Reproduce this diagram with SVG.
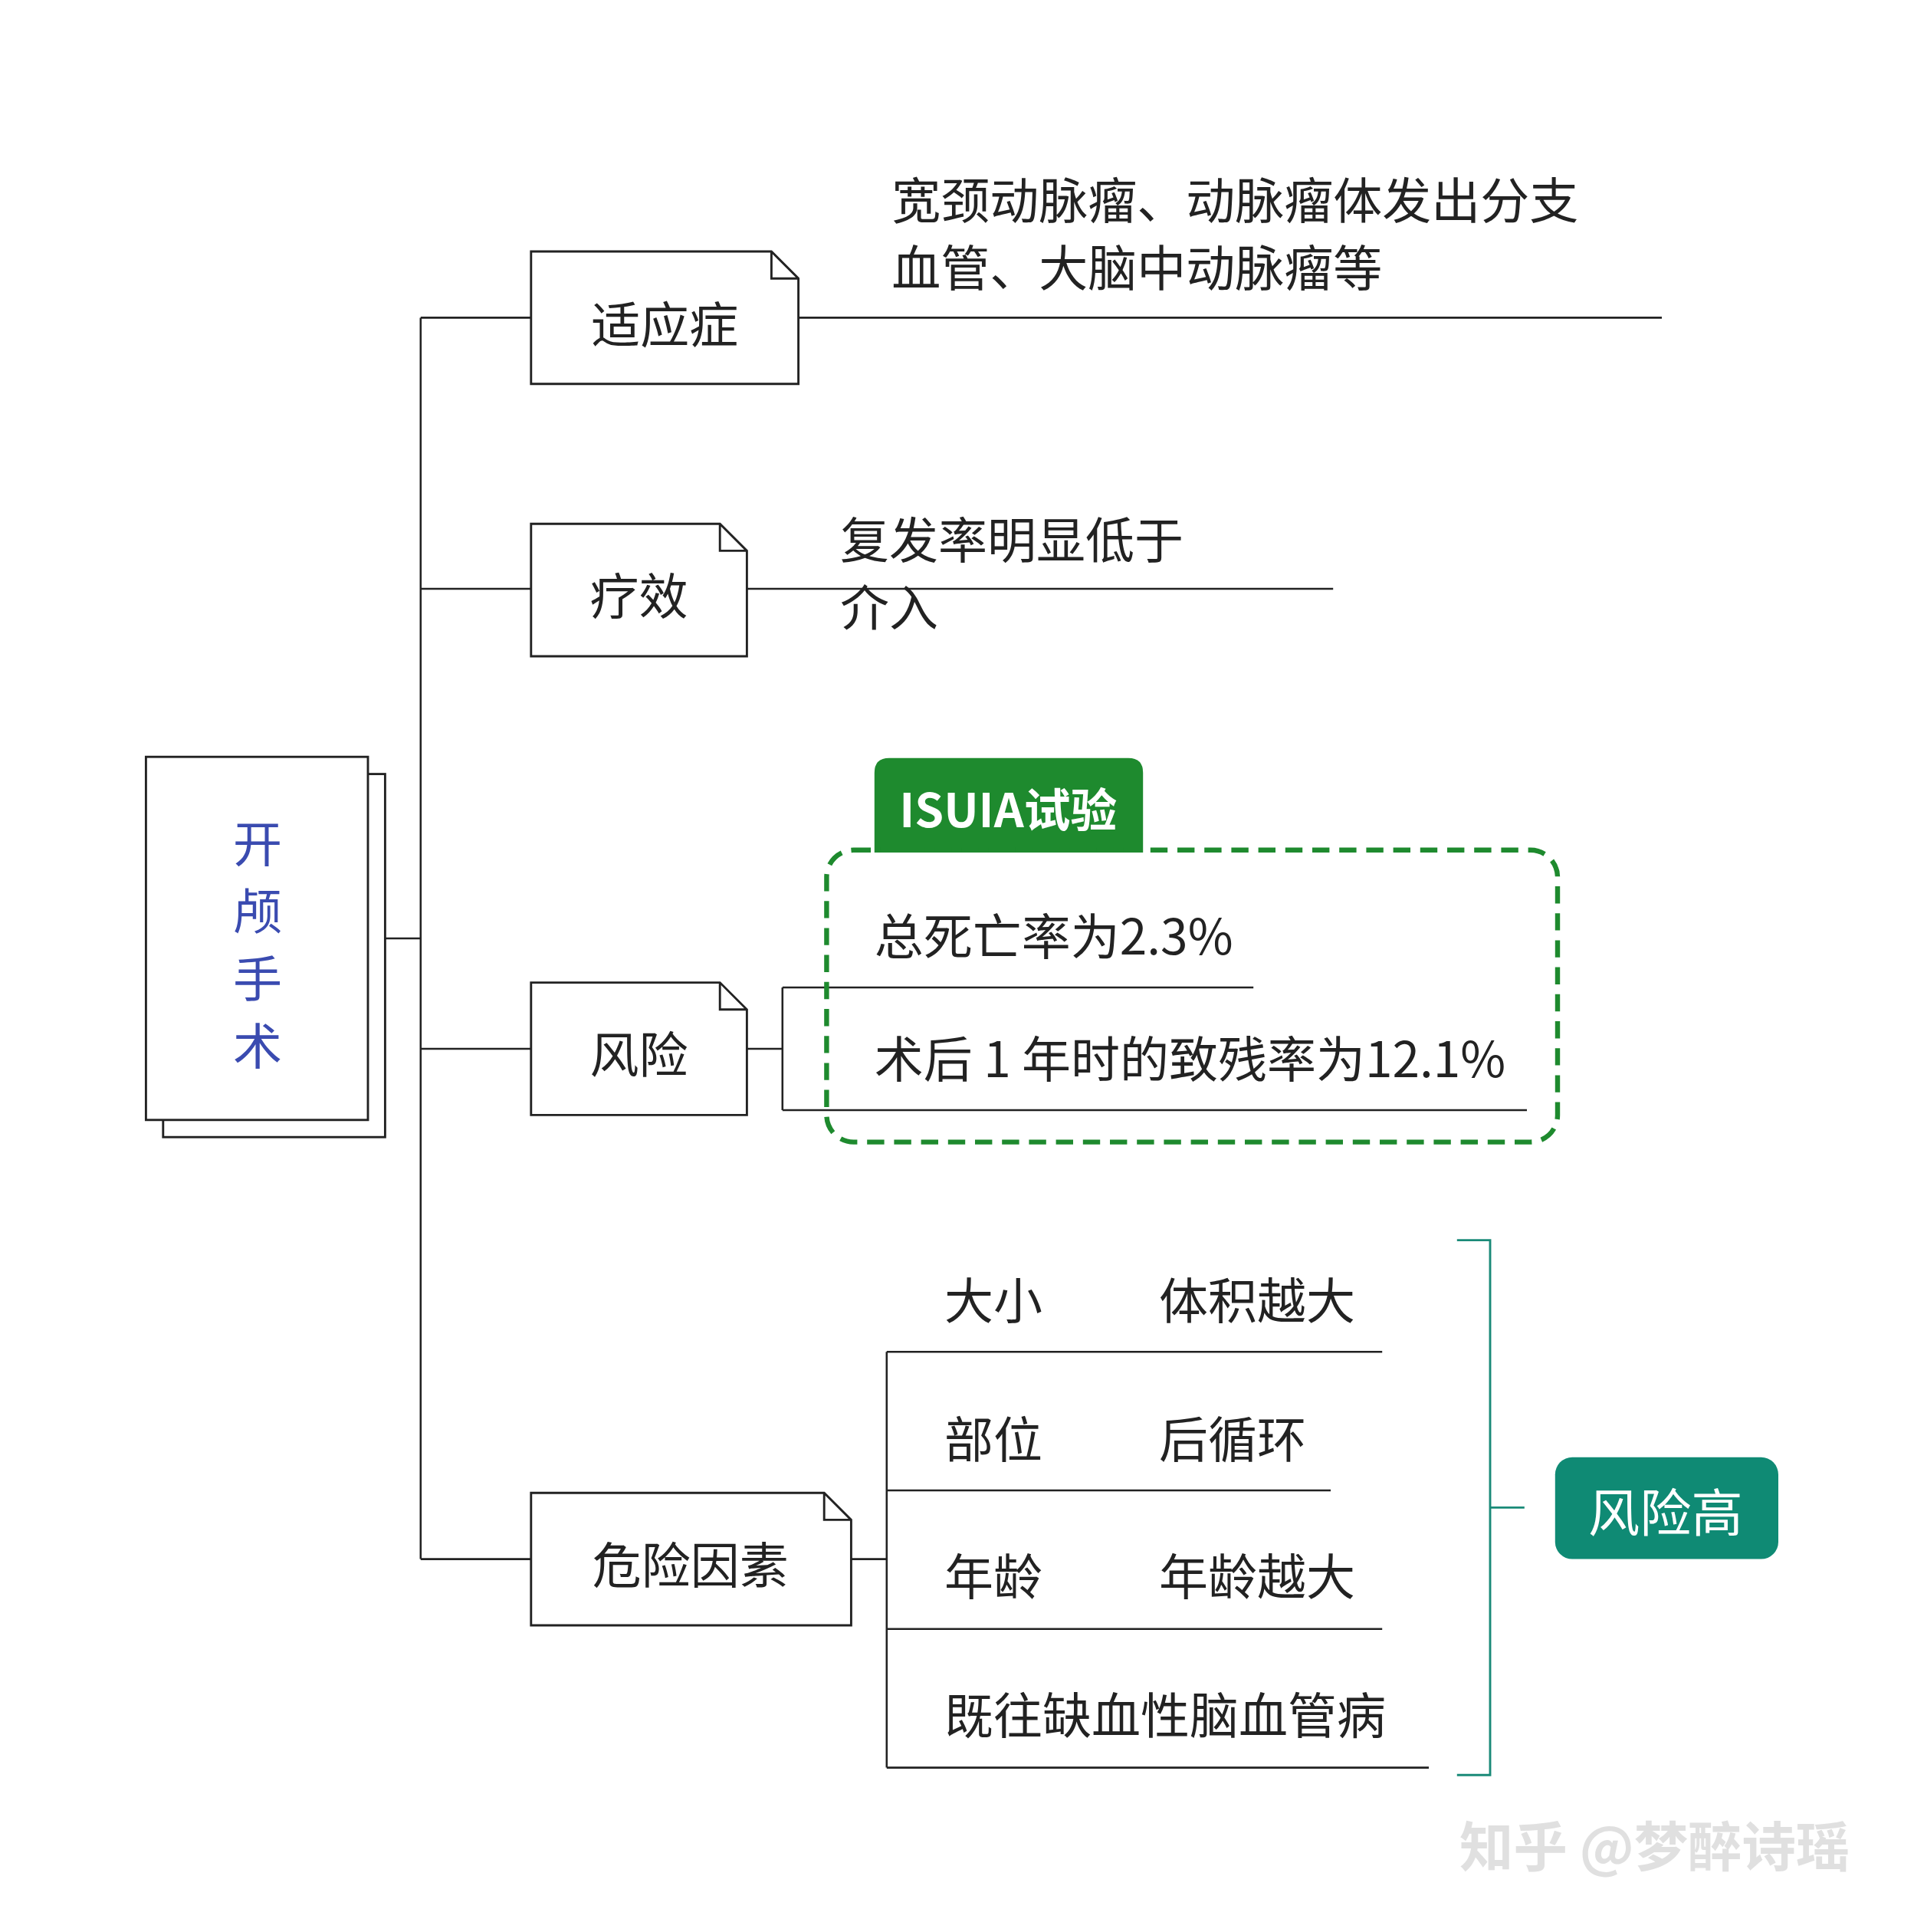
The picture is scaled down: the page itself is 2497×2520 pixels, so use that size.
<svg xmlns="http://www.w3.org/2000/svg" width="2497" height="2520" viewBox="0 0 2497 2520">
<style>
.l{stroke:#222;stroke-width:1.6;fill:none}
.n{stroke:#222;stroke-width:1.8;fill:#fff}
.t{font-family:"Noto Sans CJK SC","Noto Sans",sans-serif;font-size:40px;fill:#222}
.c{text-anchor:middle;dominant-baseline:central}
</style>
<rect width="2497" height="2520" fill="#fff"/>
<g transform="scale(1.6)">
<g id="connectors">
<path class="l" d="M314 765H343M343 259V1271M343 259H433M343 480H433M343 855H433M343 1271H433"/>
<path class="l" d="M651 259H1355M609 480H1087"/>
<path class="l" d="M609 855H638M638 805V905M638 805H1022M638 905H1245"/>
<path class="l" d="M694 1271H723M723 1102V1441M723 1102H1127M723 1215H1085M723 1328H1127M723 1441H1165"/>
<path d="M1188 1011H1215V1447H1188M1215 1229H1243" stroke="#1a8a78" stroke-width="1.8" fill="none"/>
</g>
<g id="root">
<rect class="n" x="133" y="631" width="181" height="296"/>
<rect class="n" x="119" y="617" width="181" height="296"/>
<g font-family="Noto Sans CJK SC,sans-serif" font-size="40" fill="#3a4bb0" text-anchor="middle" dominant-baseline="central">
<text x="210" y="685">开</text><text x="210" y="740">颅</text><text x="210" y="795">手</text><text x="210" y="850">术</text></g>
</g>
<g id="n1"><path class="n" d="M433 205H629L651 227V313H433Z M629 205V227H651"/><text class="t c" x="542" y="262">适应症</text>
<text class="t" x="727" y="178">宽颈动脉瘤、动脉瘤体发出分支</text><text class="t" x="727" y="233">血管、大脑中动脉瘤等</text></g>
<g id="n2"><path class="n" d="M433 427H587L609 449V535H433Z M587 427V449H609"/><text class="t c" x="521" y="483">疗效</text>
<text class="t" x="685" y="455">复发率明显低于</text><text class="t" x="685" y="510">介入</text></g>
<g id="n3"><path class="n" d="M433 801H587L609 823V909H433Z M587 801V823H609"/><text class="t c" x="521" y="857">风险</text>
<path d="M713 695V630Q713 618 725 618H920Q932 618 932 630V695Z" fill="#1e8a2e"/>
<text x="822" y="658" font-family="Noto Sans CJK SC,sans-serif" font-size="38" font-weight="bold" fill="#fff" class="c">ISUIA试验</text>
<rect x="674" y="693" width="596" height="238" rx="22" fill="none" stroke="#1e8a2e" stroke-width="4" stroke-dasharray="14 8"/>
<text class="t" x="713" y="778">总死亡率为2.3%</text><text class="t" x="713" y="878">术后 1 年时的致残率为12.1%</text></g>
<g id="n4"><path class="n" d="M433 1217H672L694 1239V1325H433Z M672 1217V1239H694"/><text class="t c" x="563" y="1273">危险因素</text>
<text class="t" x="770" y="1075">大小</text><text class="t" x="945" y="1075">体积越大</text>
<text class="t" x="770" y="1188">部位</text><text class="t" x="945" y="1188">后循环</text>
<text class="t" x="770" y="1300">年龄</text><text class="t" x="945" y="1300">年龄越大</text>
<text class="t" x="770" y="1413">既往缺血性脑血管病</text></g>
<g id="n5"><rect x="1268" y="1188" width="182" height="83" rx="14" fill="#0f8a74"/><text x="1358" y="1230" font-family="Noto Sans CJK SC,sans-serif" font-size="42" fill="#fff" class="c">风险高</text></g>
<text x="1190" y="1522" font-family="Noto Sans CJK SC,sans-serif" font-size="44" font-weight="bold" fill="#e0e0e0">知乎 @梦醉诗瑶</text>
</g>
</svg>
